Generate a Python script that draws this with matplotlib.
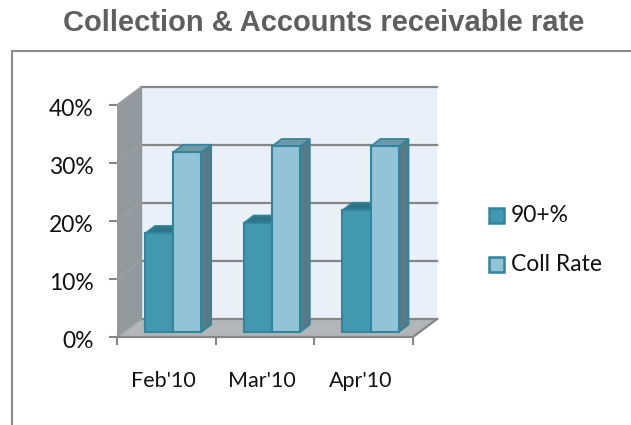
"""Collection and accounts receivable rate, drawn as a fake 3D column chart."""

import matplotlib.pyplot as plt
from matplotlib.patches import Polygon, Rectangle
from matplotlib.transforms import ScaledTranslation

months = ["Feb'10", "Mar'10", "Apr'10"]
over_90 = [17, 18.8, 21]
coll_rate = [31, 32, 32]
y_ticks = [0, 10, 20, 30, 40]

WALL_DX = 0.243
WALL_DY = 3.1
BAR_DX = 0.10
BAR_DY = 1.3
BAR_X0 = 0.285
BAR_W = 0.285
BAR_BASE = 0.85

GRID = "#868686"
DARK = "#4198af"
LIGHT = "#93c3d6"
EDGE = "#31859c"
TEXT = "#111111"

fig = plt.figure(figsize=(6.31, 4.25), dpi=100)
ax = fig.add_axes([117 / 631, 88 / 425, 296 / 631, 232 / 425])
ax.set_xlim(0, 3)
ax.set_ylim(0, 40)
for spine in ax.spines.values():
    spine.set_visible(False)


def poly(points, color, edge=None, lw=0, zorder=1):
    ax.add_patch(Polygon(points, closed=True, facecolor=color, edgecolor=edge or color,
                         linewidth=lw, clip_on=False, zorder=zorder))


# walls and floor
poly([(WALL_DX, WALL_DY), (3 + WALL_DX, WALL_DY), (3 + WALL_DX, 40 + WALL_DY), (WALL_DX, 40 + WALL_DY)], "#e9f0f8")
poly([(0, 0), (WALL_DX, WALL_DY), (WALL_DX, 40 + WALL_DY), (0, 40)], "#949a9c")
poly([(0, 0), (3, 0), (3 + WALL_DX, WALL_DY), (WALL_DX, WALL_DY)], "#b2b6b9")

for tick in y_ticks:
    ax.plot([WALL_DX, 3 + WALL_DX], [tick + WALL_DY, tick + WALL_DY], color=GRID, lw=1.6, clip_on=False, zorder=2)
    ax.plot([0, WALL_DX], [tick, tick + WALL_DY], color="#9a9ea0", lw=1.2, clip_on=False, zorder=2)
ax.plot([WALL_DX, WALL_DX], [WALL_DY, 40 + WALL_DY], color="#8f9597", lw=1, clip_on=False, zorder=2)
ax.plot([0, 3, 3 + WALL_DX], [0, 0, WALL_DY], color=GRID, lw=1.6, clip_on=False, zorder=2)

ax.set_xticks([0, 1, 2, 3])
ax.set_xticklabels([])
ax.set_yticks(y_ticks)
ax.set_yticklabels([f"{tick}%" for tick in y_ticks], fontsize=16.5, family="Lato", color=TEXT)
ax.tick_params(axis="both", color=GRID, width=1.5, length=6, pad=11)
ax.tick_params(axis="x", direction="out")
shift = ScaledTranslation(0, -3 / 100, fig.dpi_scale_trans)
for label in ax.get_yticklabels():
    label.set_transform(label.get_transform() + shift)
for i, month in enumerate(months):
    ax.text(i + 0.47, -7.55, month, ha="center", va="center", fontsize=15.5, family="Lato", color=TEXT)

# columns
for i in range(len(months)):
    left = i + BAR_X0
    for j, (value, face, top, side) in enumerate(
        [(over_90[i], DARK, "#2f7386", "#2f7386"), (coll_rate[i], LIGHT, "#6f98a6", "#567a86")]
    ):
        x0 = left + j * BAR_W
        x1 = x0 + BAR_W
        height = value + BAR_BASE
        poly([(x1, BAR_BASE), (x1 + BAR_DX, BAR_BASE + BAR_DY), (x1 + BAR_DX, height + BAR_DY), (x1, height)],
             side, EDGE, 1.2, 3 + j)
        poly([(x0, height), (x1, height), (x1 + BAR_DX, height + BAR_DY), (x0 + BAR_DX, height + BAR_DY)],
             top, EDGE, 1.2, 3 + j)
        ax.bar(x0, value, BAR_W, bottom=BAR_BASE, align="edge", color=face, edgecolor=EDGE, linewidth=1.5,
               zorder=4 + j, clip_on=False)

# outer frame, title and legend
fig.add_artist(Rectangle((12 / 631, -0.02), 1.0, (425 - 50.5) / 425 + 0.02, transform=fig.transFigure,
                         facecolor="none", edgecolor="#8a8a8a", linewidth=1.5))
fig.text(324 / 631, 1 - 23 / 425, "Collection & Accounts receivable rate", ha="center", va="center",
         fontsize=21, fontweight="bold", family="Liberation Sans", color="#5f5f5f")
for y_px, face, label in [(215.5, DARK, "90+%"), (264.5, LIGHT, "Coll Rate")]:
    fig.add_artist(Rectangle((489 / 631, 1 - (y_px + 7.5) / 425), 15 / 631, 15 / 425, transform=fig.transFigure,
                             facecolor=face, edgecolor=EDGE, linewidth=1.8))
    fig.text(511 / 631, 1 - y_px / 425, label, ha="left", va="center", fontsize=16.5, family="Lato", color=TEXT)

fig.savefig("out.png", dpi=100)
plt.close(fig)
